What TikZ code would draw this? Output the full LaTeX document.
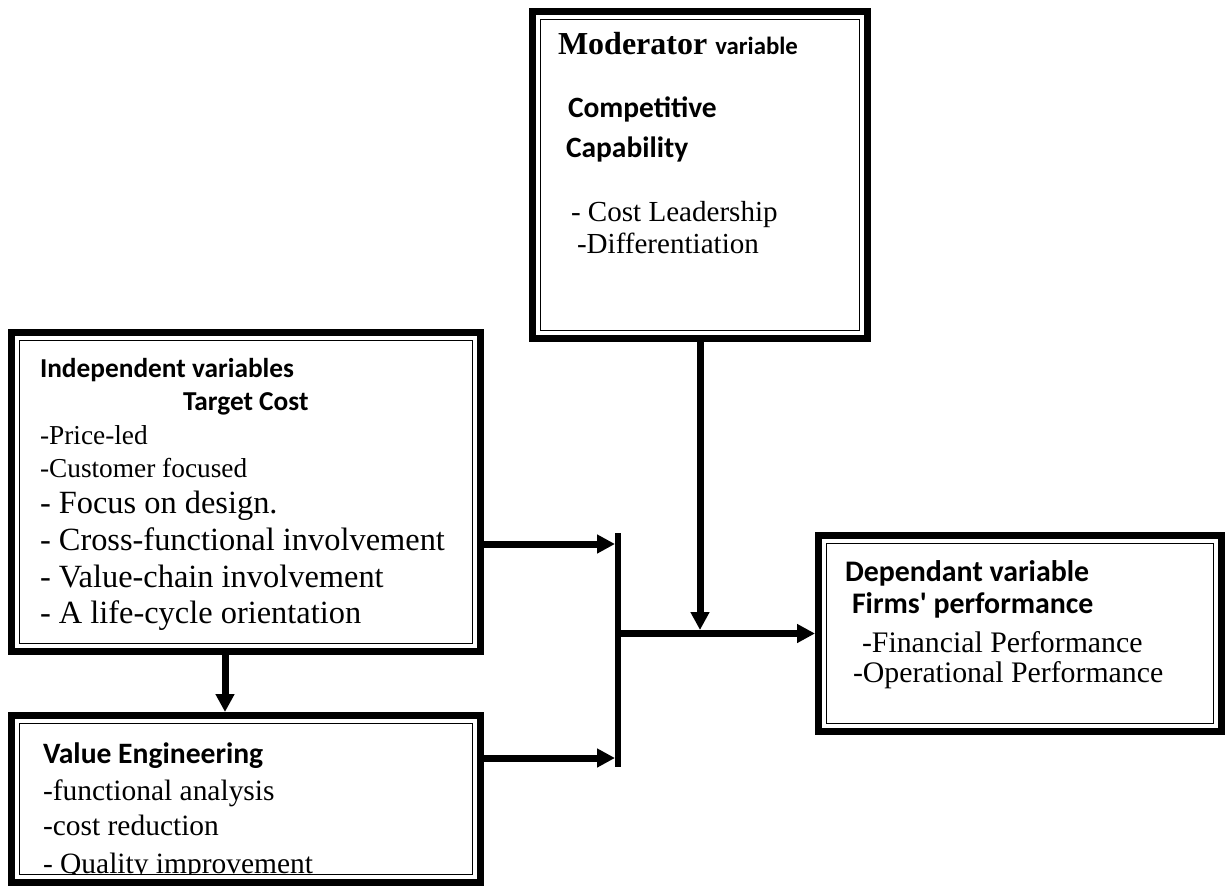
\documentclass[tikz,border=0pt]{standalone}
\usepackage{fontspec}
\setmainfont{Liberation Serif}
\newfontfamily\calib{Carlito}
\usetikzlibrary{arrows.meta,calc}

\tikzset{
  frame/.style={draw, line width=5.25pt, inner sep=0pt, fill=white},
  thinframe/.style={line width=1.35pt},
  arr/.style={line width=5.25pt, -{Triangle[length=13.5pt,width=13.5pt]}},
  txt/.style={anchor=base west, inner sep=0pt, outer sep=0pt},
  % Moderator box
  modhead/.style={txt, font=\bfseries\fontsize{24}{28}\selectfont},
  modsub/.style={txt, font=\calib\bfseries\fontsize{22.1}{26}\selectfont},
  modtxt/.style={txt, font=\fontsize{21.8}{25}\selectfont},
  % Independent box
  indhead/.style={txt, font=\calib\bfseries\fontsize{20.5}{24}\selectfont},
  indsmall/.style={txt, font=\fontsize{20.5}{24}\selectfont},
  indbig/.style={txt, font=\fontsize{24.3}{28}\selectfont},
  % Value engineering box
  valhead/.style={txt, font=\calib\bfseries\fontsize{22.2}{26}\selectfont},
  valtxt/.style={txt, font=\fontsize{22.1}{26}\selectfont},
  % Dependant box
  dephead/.style={txt, font=\calib\bfseries\fontsize{22.4}{26}\selectfont},
  deptxt/.style={txt, font=\fontsize{22.35}{26}\selectfont},
}

\begin{document}
\begin{tikzpicture}[x=0.75pt,y=-0.75pt]
\useasboundingbox (0,0) rectangle (1227,888);

% boxes: thick outer rule
\node[frame, minimum width=251.25pt, minimum height=245.25pt] (mod) at (700,175) {};
\node[frame, minimum width=351.75pt, minimum height=239.25pt] (ind) at (246,492) {};
\node[frame, minimum width=351.75pt, minimum height=125.25pt] (val) at (246,799) {};
\node[frame, minimum width=302.25pt, minimum height=147pt] (dep) at (1020,633.5) {};

% thin inner rule
\foreach \b in {mod,ind,val,dep}
  \draw[thinframe] ([shift={(11.5,11.5)}]\b.north west) rectangle ([shift={(-11.5,-11.5)}]\b.south east);

% collecting bar
\node[fill, inner sep=0pt, outer sep=0pt, minimum width=4.5pt, minimum height=175.5pt] (bar) at (618,650) {};

% moderator text
\node[modhead] (m1) at (558,55) {Moderator {\calib\fontsize{18.6}{22}\selectfont variable}};
\node[modsub] (m2) at (568,118) {Competitive};
\node[modsub] (m3) at (566,158) {Capability};
\node[modtxt] (m4) at (571,221) {- Cost Leadership};
\node[modtxt] (m5) at (577,253) {-Differentiation};

% independent variables text
\node[indhead] (i1) at (40,377) {Independent variables};
\node[indhead] (i2) at (183,410) {Target Cost};
\node[indsmall] (i3) at (40,444) {-Price-led};
\node[indsmall] (i4) at (40,477) {-Customer focused};
\node[indbig] (i5) at (40,513) {- Focus on design.};
\node[indbig] (i6) at (40,550) {- Cross-functional involvement};
\node[indbig] (i7) at (40,587) {- Value-chain involvement};
\node[indbig] (i8) at (40,623) {- A life-cycle orientation};

% value engineering text, cut off by the inner rule
\begin{scope}
  \clip ([shift={(12.5,12.5)}]val.north west) rectangle ([shift={(-12.5,-12.5)}]val.south east);
  \node[valhead] (v1) at (43,763) {Value Engineering};
  \node[valtxt] (v2) at (43,800) {-functional analysis};
  \node[valtxt] (v3) at (43,835) {-cost reduction};
  \node[valtxt] (v4) at (43,873) {- Quality improvement};
\end{scope}

% dependant variable text
\node[dephead] (d1) at (845,581) {Dependant variable};
\node[dephead] (d2) at (852,613) {Firms' performance};
\node[deptxt] (d3) at (862,652) {-Financial Performance};
\node[deptxt] (d4) at (853,682) {-Operational Performance};

% connectors
\coordinate (lvA) at (0,544);
\coordinate (lvB) at (0,758);
\coordinate (colA) at (225,0);
\coordinate (join) at (mod.south |- dep.west);

\draw[arr] (ind.east |- lvA) -- (bar.west |- lvA);
\draw[arr] (val.east |- lvB) -- (bar.west |- lvB);
\draw[arr] (ind.south -| colA) -- (val.north -| colA);
\draw[arr] (bar.east |- dep.west) -- (dep.west);
\draw[arr] (mod.south) -- ($(join)+(0,-3.5)$);

\end{tikzpicture}
\end{document}
